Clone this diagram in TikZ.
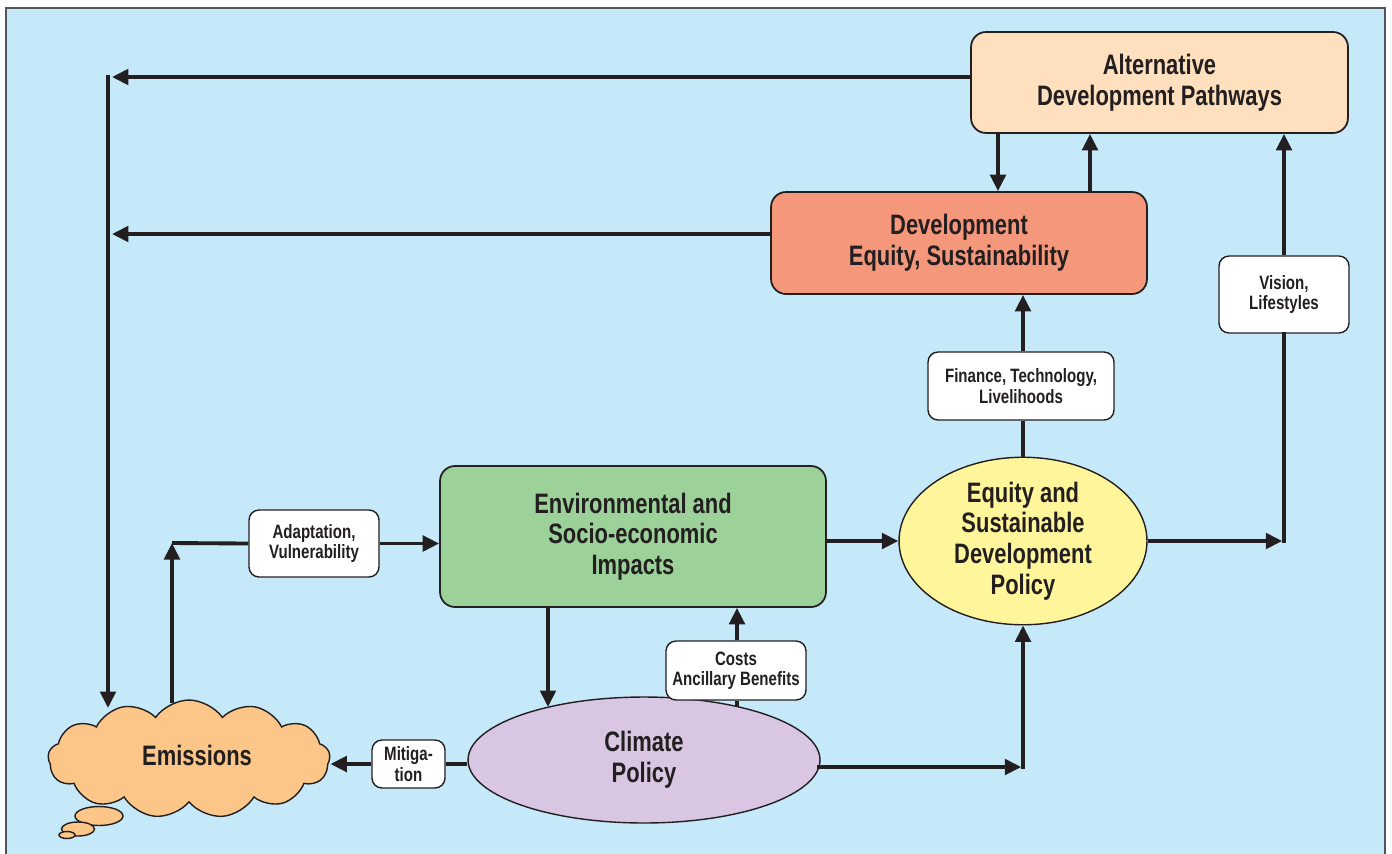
\documentclass[tikz,border=0pt]{standalone}
\usepackage{fontspec}
\setmainfont{Liberation Sans}[FakeStretch=0.78]
\usepackage{tikz}
\usetikzlibrary{shapes.geometric, shapes.symbols, arrows.meta}
\definecolor{bgblue}{RGB}{198, 233, 249}
\definecolor{framegray}{RGB}{85, 85, 85}
\definecolor{ink}{RGB}{35, 31, 32}
\definecolor{altpeach}{RGB}{254, 224, 190}
\definecolor{devsalmon}{RGB}{245, 151, 122}
\definecolor{envgreen}{RGB}{157, 209, 154}
\definecolor{sdpyellow}{RGB}{255, 246, 155}
\definecolor{climlilac}{RGB}{216, 198, 226}
\definecolor{emisorange}{RGB}{251, 198, 136}
\newcommand{\mainlbl}{\bfseries\fontsize{16}{17.5}\selectfont}
\newcommand{\taglbl}{\bfseries\fontsize{11}{11.6}\selectfont}

\begin{document}
\begin{tikzpicture}[
    x=0.02cm, y=-0.02cm,
    every node/.style={text=ink},
    box/.style={rectangle, draw=ink, line width=1pt, rounded corners=0.3cm, align=center, inner sep=0pt, font=\mainlbl},
    tag/.style={rectangle, draw=ink, fill=white, line width=0.8pt, rounded corners=0.2cm, align=center, inner sep=0pt, font=\taglbl},
    oval/.style={ellipse, draw=ink, line width=0.8pt, align=center, inner sep=0pt, font=\mainlbl},
    puff/.style={ellipse, draw=ink, fill=emisorange, line width=0.8pt, inner sep=0pt},
    arrow/.style={-{Triangle[length=3.3mm, width=3.1mm]}, line width=2.2pt, draw=ink},
    link/.style={line width=2.2pt, draw=ink}
]
    % frame and page
    \clip (0,0) rectangle (1392,853);
    \fill[white] (0,0) rectangle (1392,853);
    \draw[framegray, fill=bgblue, line width=1pt] (6,8) rectangle (1385,880);

    % main blocks
    \node[box, fill=altpeach, minimum width=7.54cm, minimum height=2.02cm] (alt) at (1159.5,82.5) {Alternative\\Development Pathways};
    \node[box, fill=devsalmon, minimum width=7.52cm, minimum height=2.04cm] (dev) at (959,243) {Development\\Equity, Sustainability};
    \node[box, fill=envgreen, minimum width=7.72cm, minimum height=2.82cm] (env) at (633,536.5) {Environmental and\\Socio-economic\\Impacts};
    \node[oval, fill=sdpyellow, minimum width=4.96cm, minimum height=3.08cm] (sdp) at (1023,541) {Equity and\\Sustainable\\Development\\Policy};
    \node[oval, fill=climlilac, minimum width=7.04cm, minimum height=2.52cm] (clim) at (644,760) {Climate\\Policy};

    % emissions cloud
    \node[cloud, draw=ink, fill=emisorange, line width=0.8pt, cloud puffs=13, cloud puff arc=110, aspect=2.5,
          minimum width=5.64cm, minimum height=2.36cm, inner sep=0pt, font=\mainlbl] (emis) at (189,759) {};
    \node[font=\mainlbl] (emislbl) at (197,755) {Emissions};
    \node[puff, minimum width=0.96cm, minimum height=0.38cm] (puffa) at (99,816) {};
    \node[puff, minimum width=0.66cm, minimum height=0.28cm] (puffb) at (78,829) {};
    \node[puff, minimum width=0.32cm, minimum height=0.14cm] (puffc) at (67,835) {};

    % labels on the connectors
    \node[tag, minimum width=2.6cm, minimum height=1.34cm] (adapt) at (314,543.5) {Adaptation,\\Vulnerability};
    \node[tag, minimum width=3.72cm, minimum height=1.36cm] (fin) at (1021,386) {Finance, Technology,\\Livelihoods};
    \node[tag, minimum width=2.6cm, minimum height=1.54cm] (vision) at (1284,294.5) {Vision,\\Lifestyles};
    \node[tag, minimum width=2.8cm, minimum height=1.18cm] (costs) at (736,670.5) {Costs\\Ancillary Benefits};
    \node[tag, minimum width=1.46cm, minimum height=0.96cm] (mitig) at (408.5,764) {Mitiga-\\tion};

    % corner points
    \coordinate (ttop) at (108,75);
    \coordinate (thead) at (112,77);
    \coordinate (dhead) at (112,234);
    \coordinate (emisin) at (108,708);
    \coordinate (emisout) at (172,703);
    \coordinate (adbase) at (172,543);
    \coordinate (climin) at (548,707);
    \coordinate (climtop) at (737,707);
    \coordinate (sdpbase) at (1023,767);
    \coordinate (sdptop) at (1024,0);
    \coordinate (visbase) at (1284,541);
    \coordinate (altdn) at (998,0);
    \coordinate (devup) at (1090,0);

    \draw[arrow] (alt.west |- thead) -- (thead);
    \draw[arrow] (dev.west |- dhead) -- (dhead);
    \draw[arrow] (ttop) -- (emisin);
    \draw[arrow] (emisout) -- (adbase);
    \draw[link] (adbase) -- (adapt.west);
    \draw[arrow] (adapt.east) -- (env.west |- adapt.east);
    \draw[arrow] (env.east |- sdp.west) -- (sdp.west);
    \draw[arrow] (env.south -| climin) -- (climin);
    \draw[link] (climtop) -- (costs.south -| climtop);
    \draw[arrow] (costs.north -| climtop) -- (env.south -| climtop);
    \draw[link] (clim.west |- mitig.east) -- (mitig.east);
    \draw[arrow] (mitig.west) -- (emis.east |- mitig.west);
    \draw[arrow, shorten <=-2pt, shorten >=1pt] (clim.east |- sdpbase) -- (sdpbase);
    \draw[arrow, line cap=rect] (sdpbase) -- (sdp.south);
    \draw[link] (sdp.north) -- (fin.south -| sdp.north);
    \draw[arrow] (fin.north -| sdp.north) -- (dev.south -| sdp.north);
    \draw[arrow, shorten >=1pt] (sdp.east) -- (visbase);
    \draw[link, line cap=rect] (visbase) -- (vision.south);
    \draw[arrow] (vision.north) -- (alt.south -| vision.north);
    \draw[arrow] (alt.south -| altdn) -- (dev.north -| altdn);
    \draw[arrow] (dev.north -| devup) -- (alt.south -| devup);
\end{tikzpicture}
\end{document}
